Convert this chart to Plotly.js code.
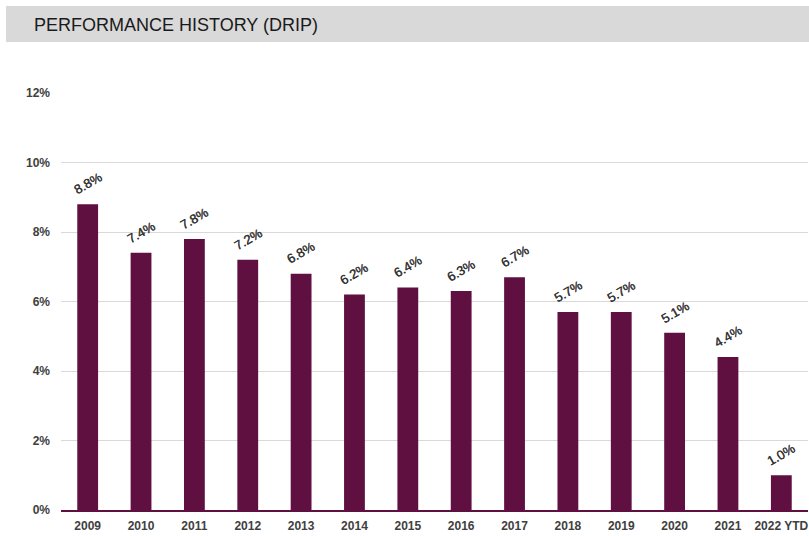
<!DOCTYPE html>
<html>
<head>
<meta charset="utf-8">
<script src="https://cdn.plot.ly/plotly-3.0.1.min.js"></script>
<style>html,body{margin:0;padding:0;background:#fff;}#chart{width:809px;height:536px;}</style>
</head>
<body>
<div id="chart"></div>
<script>
const categories = ["2009","2010","2011","2012","2013","2014","2015","2016","2017","2018","2019","2020","2021","2022 YTD"];
const returns = [8.8, 7.4, 7.8, 7.2, 6.8, 6.2, 6.4, 6.3, 6.7, 5.7, 5.7, 5.1, 4.4, 1.0];
const yTicks = [0, 2, 4, 6, 8, 10, 12];
const yTickLabels = ["0%", "2%", "4%", "6%", "8%", "10%", "12%"];

const W = 809, H = 536;
const mL = 61, mR = 1, mT = 93, mB = 26;
const pw = W - mL - mR, ph = H - mT - mB;
const px = v => (v - mL) / pw;
const py = v => (H - mB - v) / ph;

const barColor = "#5f0f40";
const idx = categories.map((c, i) => i);

const trace = {
  type: "bar",
  x: idx,
  y: returns,
  width: 0.39,
  marker: { color: barColor, line: { width: 0 } },
  hoverinfo: "skip"
};

const annotations = idx.map(i => ({
  x: i, y: returns[i], xref: "x", yref: "y",
  text: returns[i].toFixed(1) + "%",
  showarrow: false, textangle: -30,
  yanchor: "bottom", xanchor: "center", yshift: 4,
  font: { family: "Liberation Sans, Arial, sans-serif", size: 13, color: "#333333",
          shadow: "0.4px 0px 0px #333333" }
}));

const layout = {
  width: W, height: H,
  margin: { l: mL, r: mR, t: mT, b: mB, pad: 0 },
  paper_bgcolor: "#fff", plot_bgcolor: "#fff",
  showlegend: false,
  title: {
    text: "PERFORMANCE HISTORY (DRIP)",
    xref: "container", yref: "container",
    x: 34 / W, xanchor: "left",
    y: 1 - 25 / H, yanchor: "middle",
    font: { family: "Liberation Sans, Arial, sans-serif", size: 18, color: "#1a1a1a" }
  },
  shapes: [{
    type: "rect", xref: "paper", yref: "paper", layer: "below",
    x0: px(6), x1: px(809), y0: py(42), y1: py(6),
    fillcolor: "#d9d9d9", line: { width: 0 }
  }],
  xaxis: {
    type: "linear",
    range: [-0.5, categories.length - 0.5],
    tickvals: idx, ticktext: categories,
    showgrid: false, zeroline: false,
    showline: true, linecolor: barColor, linewidth: 2,
    ticks: "",
    ticklabelstandoff: 4,
    tickfont: { family: "Liberation Sans, Arial, sans-serif", size: 12, color: "#404040", weight: "bold" },
    fixedrange: true
  },
  yaxis: {
    range: [0, 12],
    tickvals: yTicks, ticktext: yTickLabels,
    showgrid: true, gridcolor: "#d9d9d9", gridwidth: 1,
    zeroline: false, showline: false, ticks: "",
    ticklabelstandoff: 10,
    tickfont: { family: "Liberation Sans, Arial, sans-serif", size: 12, color: "#404040", weight: "bold" },
    fixedrange: true
  },
  annotations: annotations
};

Plotly.newPlot("chart", [trace], layout, { displayModeBar: false });
</script>
</body>
</html>
